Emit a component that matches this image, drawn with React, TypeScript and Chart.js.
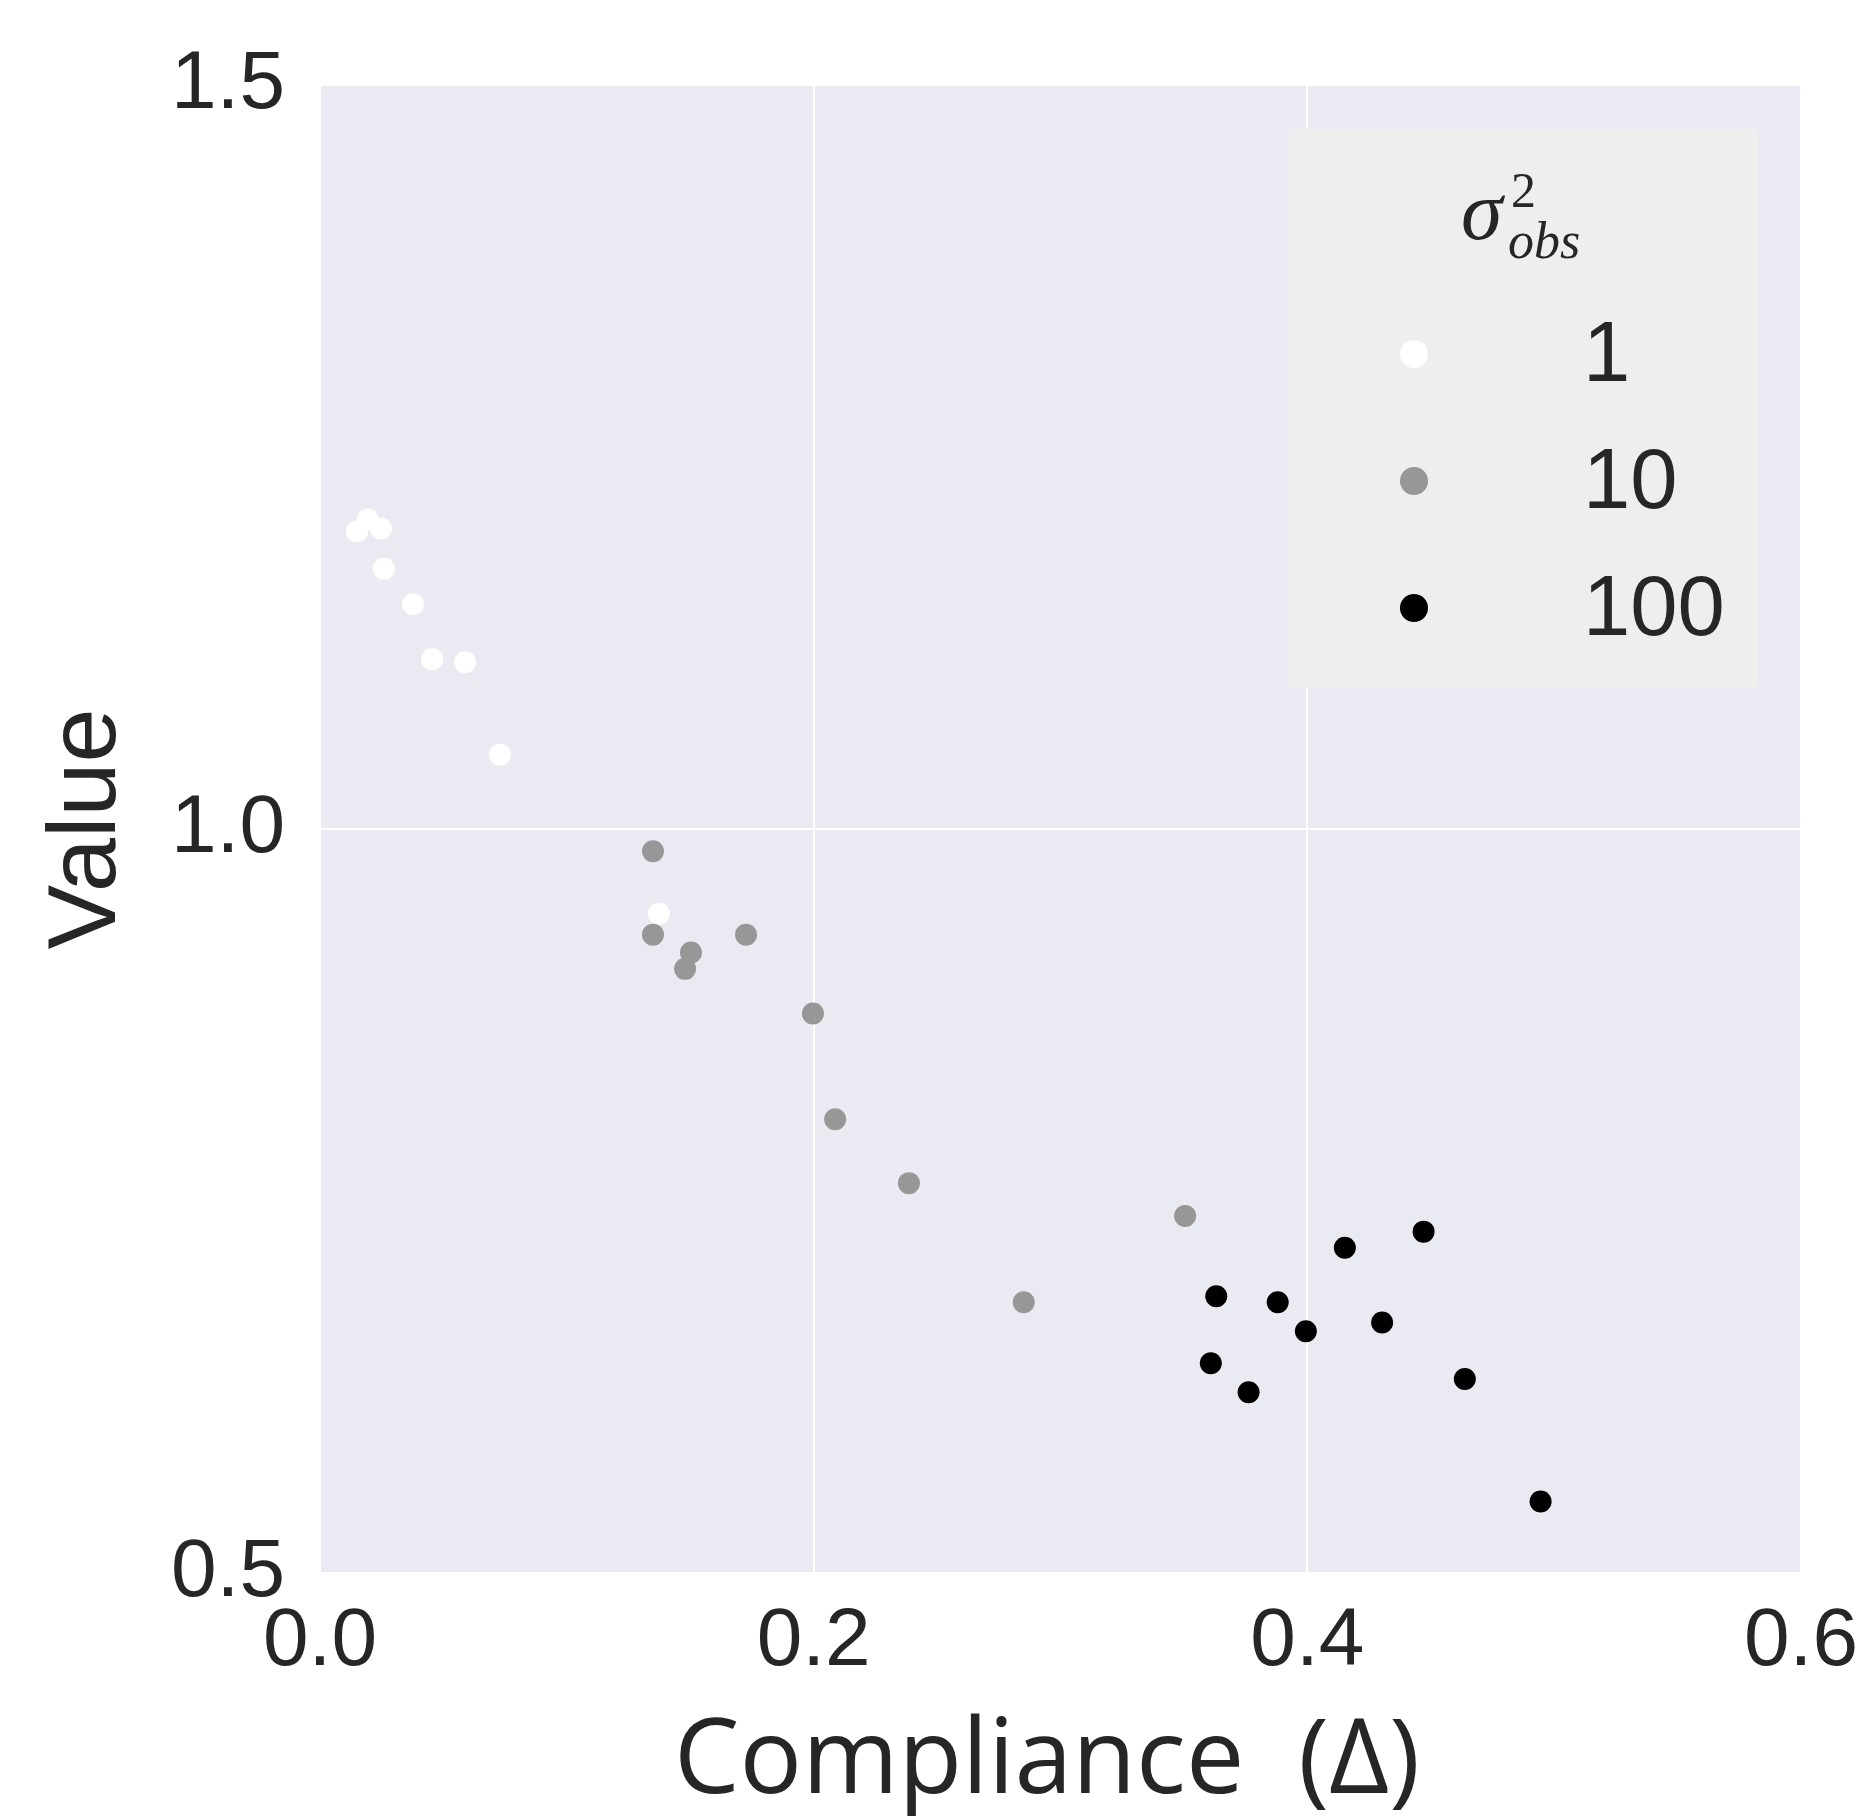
import React, { useEffect, useRef } from "react";
import { Chart, registerables } from "chart.js";

Chart.register(...registerables);

// ---- data ----
const seriesLabels = ["1", "10", "100"];
const seriesColors = ["#ffffff", "#979797", "#000000"];
const xTicks = [0.0, 0.2, 0.4, 0.6];
const yTicks = [0.5, 1.0, 1.5];

const whiteX = [0.015, 0.0194, 0.0247, 0.0259, 0.0377, 0.0454, 0.0587, 0.0729, 0.1373];
const whiteY = [1.2, 1.208, 1.202, 1.175, 1.151, 1.114, 1.112, 1.05, 0.943];
const greyX = [0.1349, 0.1349, 0.1726, 0.1503, 0.1479, 0.1997, 0.2087, 0.2386, 0.3505, 0.2851];
const greyY = [0.985, 0.929, 0.929, 0.917, 0.906, 0.876, 0.805, 0.762, 0.74, 0.682];
const blackX = [0.3631, 0.388, 0.3994, 0.4152, 0.4471, 0.4303, 0.3609, 0.3762, 0.4638, 0.4945];
const blackY = [0.686, 0.682, 0.6625, 0.7186, 0.7294, 0.6683, 0.6409, 0.6215, 0.6304, 0.548];

const xTitle = "Compliance  (\u0394) ";
const yTitle = "Value";

const toPoints = (xs: number[], ys: number[]) => xs.map((x, i) => ({ x, y: ys[i] }));

const TEXT = "#262626";

const bgPlugin = {
  id: "plotBg",
  beforeDraw(chart: any) {
    const { ctx, chartArea } = chart;
    ctx.save();
    ctx.fillStyle = "#EAEAF2";
    ctx.fillRect(chartArea.left, chartArea.top, chartArea.right - chartArea.left, chartArea.bottom - chartArea.top);
    ctx.restore();
  },
};

const legendPlugin = {
  id: "sigmaLegend",
  afterDatasetsDraw(chart: any) {
    const ctx = chart.ctx as CanvasRenderingContext2D;
    ctx.save();
    // box
    ctx.fillStyle = "#EEEEEE";
    ctx.fillRect(1288, 129, 470, 558);
    // title sigma^2_obs
    ctx.fillStyle = TEXT;
    ctx.textBaseline = "alphabetic";
    ctx.textAlign = "left";
    ctx.font = "italic 84px 'Liberation Serif'";
    ctx.fillText("\u03C3", 1461, 239);
    ctx.font = "50px 'Liberation Serif'";
    ctx.fillText("2", 1511, 207);
    ctx.font = "italic 52px 'Liberation Serif'";
    ctx.fillText("obs", 1508, 258);
    // items
    const ys = [354, 481, 608];
    chart.data.datasets.forEach((ds: any, i: number) => {
      ctx.beginPath();
      ctx.arc(1414, ys[i], 14, 0, Math.PI * 2);
      ctx.fillStyle = ds.backgroundColor;
      ctx.fill();
      ctx.fillStyle = TEXT;
      ctx.font = "85px 'Liberation Sans'";
      ctx.textBaseline = "alphabetic";
      ctx.fillText(ds.label, 1583, ys[i] + 27);
    });
    ctx.restore();
  },
};

export default function App() {
  const ref = useRef<HTMLCanvasElement>(null);
  useEffect(() => {
    const series = [toPoints(whiteX, whiteY), toPoints(greyX, greyY), toPoints(blackX, blackY)];
    const chart = new Chart(ref.current as HTMLCanvasElement, {
      type: "scatter",
      data: {
        datasets: series.map((pts, i) => ({
          label: seriesLabels[i],
          data: pts,
          backgroundColor: seriesColors[i],
          borderWidth: 0,
          pointRadius: 11,
          pointHoverRadius: 11,
          order: 2 - i,
        })),
      },
      options: {
        animation: false,
        responsive: false,
        devicePixelRatio: 1,
        layout: { padding: { left: 0, top: 85, right: 59, bottom: 0 } },
        plugins: { legend: { display: false }, tooltip: { enabled: false } },
        scales: {
          x: {
            type: "linear",
            min: 0,
            max: 0.6,
            afterBuildTicks: (s: any) => {
              s.ticks = xTicks.map((v) => ({ value: v }));
            },
            afterFit: (s: any) => {
              s.height = 243;
              s.paddingLeft = 0;
              s.paddingRight = 0;
            },
            grid: { color: "#ffffff", lineWidth: 2, drawTicks: false },
            border: { display: false },
            ticks: {
              autoSkip: false,
              maxRotation: 0,
              padding: 20,
              color: TEXT,
              font: { family: "'Liberation Sans'", size: 82 },
              callback: (v: any) => Number(v).toFixed(1),
            },
            title: {
              display: true,
              text: xTitle,
              color: TEXT,
              font: { family: "'Open Sans'", size: 104, lineHeight: 1 },
              padding: { top: 0, bottom: 1 },
            },
          },
          y: {
            type: "linear",
            min: 0.5,
            max: 1.5,
            afterBuildTicks: (s: any) => {
              s.ticks = yTicks.map((v) => ({ value: v }));
            },
            afterFit: (s: any) => {
              s.width = 320;
              s.paddingTop = 0;
              s.paddingBottom = 0;
            },
            grid: { color: "#ffffff", lineWidth: 2, drawTicks: false },
            border: { display: false },
            ticks: {
              autoSkip: false,
              padding: 35,
              color: TEXT,
              font: { family: "'Liberation Sans'", size: 82 },
              callback: (v: any) => Number(v).toFixed(1),
            },
            title: {
              display: true,
              text: yTitle,
              color: TEXT,
              font: { family: "'Liberation Sans'", size: 97, lineHeight: 1 },
              padding: { top: 40, bottom: 0 },
            },
          },
        },
      },
      plugins: [bgPlugin, legendPlugin],
    });
    return () => chart.destroy();
  }, []);
  return (
    <div style={{ position: "absolute", left: 0, top: 0, width: 1860, height: 1816, background: "#ffffff" }}>
      <canvas ref={ref} width={1860} height={1816} style={{ width: 1860, height: 1816, display: "block" }} />
    </div>
  );
}
